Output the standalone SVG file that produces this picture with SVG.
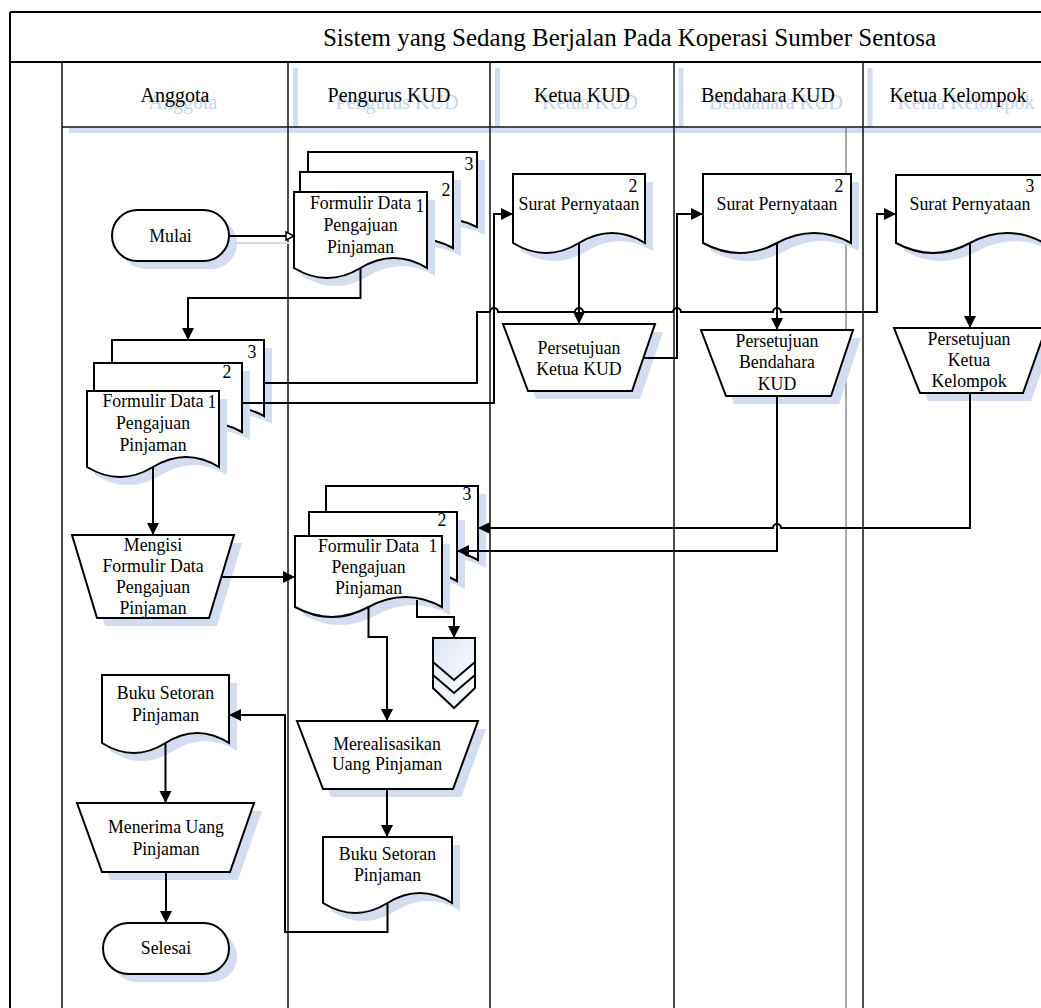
<svg xmlns="http://www.w3.org/2000/svg" width="1041" height="1008" viewBox="0 0 1041 1008">
<defs>
<style>
.frame{fill:none;stroke:#000;stroke-width:2}
.lane{fill:none;stroke:#111;stroke-width:1.5}
.hshadow{fill:none;stroke:#d3ddef;stroke-width:5}
.title{font-family:"Liberation Serif","Times New Roman",serif;font-size:25px;fill:#000;text-anchor:middle}
.head{font-family:"Liberation Serif","Times New Roman",serif;font-size:20px;fill:#000;text-anchor:middle}
.headsh{font-family:"Liberation Serif","Times New Roman",serif;font-size:20px;fill:#c8d5ec;text-anchor:middle}
.t{font-family:"Liberation Serif","Times New Roman",serif;font-size:17.8px;fill:#000;text-anchor:middle}
.shape{fill:#fff;stroke:#000;stroke-width:2}
.shadow{fill:#d3ddef;stroke:none}
.conn{fill:none;stroke:#000;stroke-width:2}
</style>
<marker id="arr" markerUnits="userSpaceOnUse" markerWidth="13" markerHeight="13" refX="12" refY="6" orient="auto">
<path d="M0,0 L12,6 L0,12 Z" fill="#000"/>
</marker>
<marker id="open" markerUnits="userSpaceOnUse" markerWidth="12" markerHeight="12" refX="9" refY="5" orient="auto">
<path d="M1,1 L9,5 L1,9 Z" fill="#fff" stroke="#000" stroke-width="1.5"/>
</marker>
<linearGradient id="grad" x1="0" y1="0" x2="1" y2="1">
<stop offset="0" stop-color="#dce5f4"/>
<stop offset="1" stop-color="#ffffff"/>
</linearGradient>
</defs>

<g id="swimlane">
<line class="hshadow" x1="295.5" y1="68" x2="295.5" y2="133"/>
<line class="hshadow" x1="497.5" y1="68" x2="497.5" y2="133"/>
<line class="hshadow" x1="681" y1="68" x2="681" y2="133"/>
<line class="hshadow" x1="870" y1="68" x2="870" y2="133"/>
<line class="hshadow" x1="69" y1="130.5" x2="1041" y2="130.5"/>
<text class="headsh" x="183" y="108.5">Anggota</text>
<text class="headsh" x="397" y="108.5">Pengurus KUD</text>
<text class="headsh" x="590" y="108.5">Ketua KUD</text>
<text class="headsh" x="776" y="108.5">Bendahara KUD</text>
<text class="headsh" x="966" y="108.5">Ketua Kelompok</text>
<line class="frame" x1="10" y1="12" x2="1041" y2="12"/>
<line class="frame" x1="10" y1="12" x2="10" y2="1008"/>
<line class="frame" x1="10" y1="62" x2="1041" y2="62"/>
<line class="lane" x1="62" y1="62" x2="62" y2="1008"/>
<line class="lane" x1="288" y1="62" x2="288" y2="1008"/>
<line class="lane" x1="490" y1="62" x2="490" y2="1008"/>
<line class="lane" x1="674" y1="62" x2="674" y2="1008"/>
<line class="lane" x1="863" y1="62" x2="863" y2="1008"/>
<line class="lane" x1="62" y1="127" x2="1041" y2="127"/>
<line x1="846" y1="127" x2="846" y2="1008" stroke="#555" stroke-width="1"/>
<text class="title" x="629.5" y="46">Sistem yang Sedang Berjalan Pada Koperasi Sumber Sentosa</text>
<text class="head" x="175" y="102">Anggota</text>
<text class="head" x="389" y="102">Pengurus KUD</text>
<text class="head" x="582" y="102">Ketua KUD</text>
<text class="head" x="768" y="102">Bendahara KUD</text>
<text class="head" x="958" y="102">Ketua Kelompok</text>
</g>

<g id="mulai">
<rect class="shadow" x="120" y="218" width="117" height="51" rx="25.5"/>
<rect class="shape" x="112" y="210" width="117" height="51" rx="25.5"/>
<text class="t" x="170.5" y="242">Mulai</text>
</g>

<g id="formulir-pengurus-1">
<path class="shadow" transform="translate(8,8)" d="M308,152 H477 V227 Q434.75,207 392.5,227 T308,227 Z"/>
<path class="shape" d="M308,152 H477 V227 Q434.75,207 392.5,227 T308,227 Z"/>
<text class="t" x="469" y="170">3</text>
<path class="shadow" transform="translate(8,8)" d="M300,172 H453 V248 Q414.75,228 376.5,248 T300,248 Z"/>
<path class="shape" d="M300,172 H453 V248 Q414.75,228 376.5,248 T300,248 Z"/>
<text class="t" x="446" y="196">2</text>
<path class="shadow" transform="translate(8,8)" d="M294,192 H427 V268 Q393.75,248 360.5,268 T294,268 Z"/>
<path class="shape" d="M294,192 H427 V268 Q393.75,248 360.5,268 T294,268 Z"/>
<text class="t" x="420" y="212">1</text>
<text class="t" x="360.5" y="209">Formulir Data</text>
<text class="t" x="360.5" y="231">Pengajuan</text>
<text class="t" x="360.5" y="253">Pinjaman</text>
</g>

<g id="formulir-anggota">
<path class="shadow" transform="translate(8,8)" d="M112,340 H264 V416 Q226,396 188,416 T112,416 Z"/>
<path class="shape" d="M112,340 H264 V416 Q226,396 188,416 T112,416 Z"/>
<text class="t" x="252" y="358">3</text>
<path class="shadow" transform="translate(8,8)" d="M94,363 H242 V432 Q205,412 168,432 T94,432 Z"/>
<path class="shape" d="M94,363 H242 V432 Q205,412 168,432 T94,432 Z"/>
<text class="t" x="227" y="378">2</text>
<path class="shadow" transform="translate(8,8)" d="M87,391 H219 V467 Q186,447 153,467 T87,467 Z"/>
<path class="shape" d="M87,391 H219 V467 Q186,447 153,467 T87,467 Z"/>
<text class="t" x="212" y="408">1</text>
<text class="t" x="153" y="407">Formulir Data</text>
<text class="t" x="153" y="429">Pengajuan</text>
<text class="t" x="153" y="451">Pinjaman</text>
</g>

<g id="surat-ketua">
<path class="shadow" transform="translate(8,8)" d="M513,174 H645 V243 Q612,223 579,243 T513,243 Z"/>
<path class="shape" d="M513,174 H645 V243 Q612,223 579,243 T513,243 Z"/>
<text class="t" x="633" y="192">2</text>
<text class="t" x="579" y="210">Surat Pernyataan</text>
</g>

<g id="surat-bendahara">
<path class="shadow" transform="translate(8,8)" d="M703,174 H851 V243 Q814,223 777,243 T703,243 Z"/>
<path class="shape" d="M703,174 H851 V243 Q814,223 777,243 T703,243 Z"/>
<text class="t" x="839" y="192">2</text>
<text class="t" x="777" y="210">Surat Pernyataan</text>
</g>

<g id="surat-kelompok">
<path class="shadow" transform="translate(8,8)" d="M896,175 H1044 V243 Q1007,223 970,243 T896,243 Z"/>
<path class="shape" d="M896,175 H1044 V243 Q1007,223 970,243 T896,243 Z"/>
<text class="t" x="1030" y="192">3</text>
<text class="t" x="970" y="210">Surat Pernyataan</text>
</g>

<g id="persetujuan-ketua">
<path class="shadow" transform="translate(8,8)" d="M503,324 H655 L632,391 H528 Z"/>
<path class="shape" d="M503,324 H655 L632,391 H528 Z"/>
<text class="t" x="579" y="354">Persetujuan</text>
<text class="t" x="579" y="375">Ketua KUD</text>
</g>

<g id="persetujuan-bendahara">
<path class="shadow" transform="translate(8,8)" d="M701,330 H853 L831,396 H726 Z"/>
<path class="shape" d="M701,330 H853 L831,396 H726 Z"/>
<text class="t" x="777" y="347">Persetujuan</text>
<text class="t" x="777" y="368">Bendahara</text>
<text class="t" x="777" y="390">KUD</text>
</g>

<g id="persetujuan-kelompok">
<path class="shadow" transform="translate(8,8)" d="M894,328 H1046 L1023,393 H920 Z"/>
<path class="shape" d="M894,328 H1046 L1023,393 H920 Z"/>
<text class="t" x="969" y="345">Persetujuan</text>
<text class="t" x="969" y="366">Ketua</text>
<text class="t" x="969" y="387">Kelompok</text>
</g>

<g id="mengisi">
<path class="shadow" transform="translate(8,8)" d="M72,535 H234 L209,618 H97 Z"/>
<path class="shape" d="M72,535 H234 L209,618 H97 Z"/>
<text class="t" x="153" y="551">Mengisi</text>
<text class="t" x="153" y="572">Formulir Data</text>
<text class="t" x="153" y="593">Pengajuan</text>
<text class="t" x="153" y="614">Pinjaman</text>
</g>

<g id="formulir-pengurus-2">
<path class="shadow" transform="translate(8,8)" d="M326,486 H478 V560 Q440,540 402,560 T326,560 Z"/>
<path class="shape" d="M326,486 H478 V560 Q440,540 402,560 T326,560 Z"/>
<text class="t" x="467" y="500">3</text>
<path class="shadow" transform="translate(8,8)" d="M309,512 H457 V581 Q420,561 383,581 T309,581 Z"/>
<path class="shape" d="M309,512 H457 V581 Q420,561 383,581 T309,581 Z"/>
<text class="t" x="442" y="526">2</text>
<path class="shadow" transform="translate(8,8)" d="M295,536 H442 V607 Q405.25,587 368.5,607 T295,607 Z"/>
<path class="shape" d="M295,536 H442 V607 Q405.25,587 368.5,607 T295,607 Z"/>
<text class="t" x="433" y="552">1</text>
<text class="t" x="368.5" y="552">Formulir Data</text>
<text class="t" x="368.5" y="573">Pengajuan</text>
<text class="t" x="368.5" y="594">Pinjaman</text>
</g>

<g id="offpage">
<path d="M433,638 H475 V688 L454,708 L433,688 Z" fill="url(#grad)" stroke="#000" stroke-width="2"/>
<path d="M433,662 L454,680 L475,662 M433,675 L454,693 L475,675" fill="none" stroke="#000" stroke-width="2"/>
</g>

<g id="merealisasikan">
<path class="shadow" transform="translate(8,8)" d="M297,721 H478 L453,789 H323 Z"/>
<path class="shape" d="M297,721 H478 L453,789 H323 Z"/>
<text class="t" x="387" y="750">Merealisasikan</text>
<text class="t" x="387" y="770">Uang Pinjaman</text>
</g>

<g id="buku-pengurus">
<path class="shadow" transform="translate(8,8)" d="M323,837 H452 V903 Q419.75,883 387.5,903 T323,903 Z"/>
<path class="shape" d="M323,837 H452 V903 Q419.75,883 387.5,903 T323,903 Z"/>
<text class="t" x="387.5" y="860">Buku Setoran</text>
<text class="t" x="387.5" y="881">Pinjaman</text>
</g>

<g id="buku-anggota">
<path class="shadow" transform="translate(8,8)" d="M102,675 H229 V743 Q197.25,723 165.5,743 T102,743 Z"/>
<path class="shape" d="M102,675 H229 V743 Q197.25,723 165.5,743 T102,743 Z"/>
<text class="t" x="165.5" y="699">Buku Setoran</text>
<text class="t" x="165.5" y="721">Pinjaman</text>
</g>

<g id="menerima">
<path class="shadow" transform="translate(8,8)" d="M77,803 H254 L230,872 H102 Z"/>
<path class="shape" d="M77,803 H254 L230,872 H102 Z"/>
<text class="t" x="166" y="833">Menerima Uang</text>
<text class="t" x="166" y="855">Pinjaman</text>
</g>

<g id="selesai">
<rect class="shadow" x="111" y="931" width="126" height="51" rx="25.5"/>
<rect class="shape" x="103" y="923" width="126" height="51" rx="25.5"/>
<text class="t" x="166" y="954">Selesai</text>
</g>

<g id="connectors">
<line x1="237" y1="243" x2="290" y2="243" stroke="#d3ddef" stroke-width="2"/>
<path class="conn" marker-end="url(#open)" d="M229,236 H294"/>
<path class="conn" marker-end="url(#arr)" d="M360.5,268 V298 H188 V340"/>
<path class="conn" marker-end="url(#arr)" d="M153,467 V535"/>
<path class="conn" marker-end="url(#arr)" d="M221,577 H295"/>
<path class="conn" marker-end="url(#arr)" d="M264,383 H477 V312 H490 a4,4 0 0 1 8,0 H575 a4,4 0 0 1 8,0 H673 a4,4 0 0 1 8,0 H773 a4,4 0 0 1 8,0 H877 V214 H896"/>
<path class="conn" marker-end="url(#arr)" d="M242,403 H494 V214 H513"/>
<path class="conn" marker-end="url(#arr)" d="M643,358 H677 V214 H703"/>
<path class="conn" marker-end="url(#arr)" d="M579,243 V324"/>
<path class="conn" marker-end="url(#arr)" d="M777,243 V330"/>
<path class="conn" marker-end="url(#arr)" d="M970,243 V328"/>
<path class="conn" marker-end="url(#arr)" d="M777,396 V551 H457"/>
<path class="conn" marker-end="url(#arr)" d="M970,393 V528 H781 a4,4 0 0 0 -8,0 H478"/>
<path class="conn" marker-end="url(#arr)" d="M417,600 V617 H454 V638"/>
<path class="conn" marker-end="url(#arr)" d="M368.5,607 V637 H387 V721"/>
<path class="conn" marker-end="url(#arr)" d="M387,789 V837"/>
<path class="conn" marker-end="url(#arr)" d="M387.5,903 V932 H285 V715 H229"/>
<path class="conn" marker-end="url(#arr)" d="M165.5,743 V803"/>
<path class="conn" marker-end="url(#arr)" d="M166,872 V923"/>
</g>
</svg>
